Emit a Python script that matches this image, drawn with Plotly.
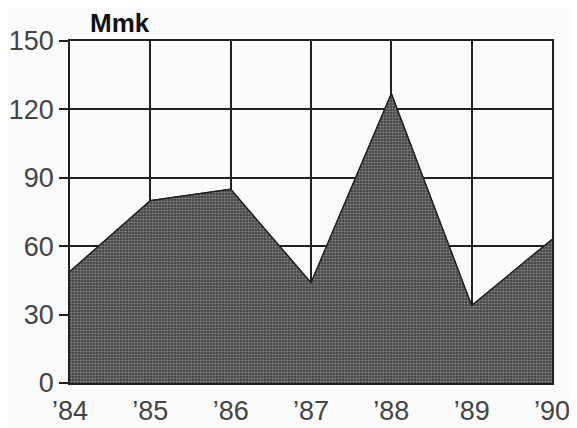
import plotly.graph_objects as go

years = ["’84", "’85", "’86", "’87", "’88", "’89", "’90"]
values = [49, 80, 85, 44, 127, 34, 63]
y_ticks = [0, 30, 60, 90, 120, 150]

x_idx = list(range(len(years)))

fig = go.Figure()
fig.add_trace(go.Scatter(
    x=x_idx, y=values, mode="lines", fill="tozeroy",
    line=dict(color="#222", width=1.2),
    fillcolor="#555",
    fillpattern=dict(shape=".", size=3, solidity=0.4, fgcolor="#cccccc", bgcolor="#454545", fillmode="overlay"),
    hoverinfo="skip", showlegend=False,
))

tick_font = dict(family="Liberation Sans", size=27, color="#444")

W, H = 569, 420
L, R, T, B = 62, 25, 33, 45
fig.update_layout(
    width=W, height=H,
    margin=dict(l=L, r=R, t=T, b=B),
    paper_bgcolor="#fbfbfb", plot_bgcolor="#fbfbfb",
    annotations=[dict(text="Mmk", x=(80 - L) / (W - L - R), y=1.0, xref="paper", yref="paper",
                      xanchor="left", yanchor="bottom", showarrow=False,
                      font=dict(family="Liberation Sans", size=26, color="#111", weight=700),
                      yshift=1)],
)
fig.update_xaxes(
    range=[0, 6], tickmode="array", tickvals=x_idx, ticktext=years,
    showgrid=True, gridcolor="#222", gridwidth=1.5,
    showline=True, linecolor="#222", linewidth=1.5, mirror=True,
    ticks="", zeroline=False, ticklabelstandoff=3, automargin=False,
    tickfont=tick_font,
)
fig.update_yaxes(
    range=[0, 150], tickmode="array", tickvals=y_ticks,
    showgrid=True, gridcolor="#222", gridwidth=1.5,
    showline=True, linecolor="#222", linewidth=1.5, mirror=True,
    ticks="outside", ticklen=9, tickcolor="#222", tickwidth=1.5,
    zeroline=False, automargin=False, ticklabelstandoff=0,
    tickfont=tick_font,
)
fig.add_trace(go.Scatter(x=x_idx, y=values, mode="lines", line=dict(color="#222", width=1.2),
                         hoverinfo="skip", showlegend=False))
fig.write_html("out.html")
